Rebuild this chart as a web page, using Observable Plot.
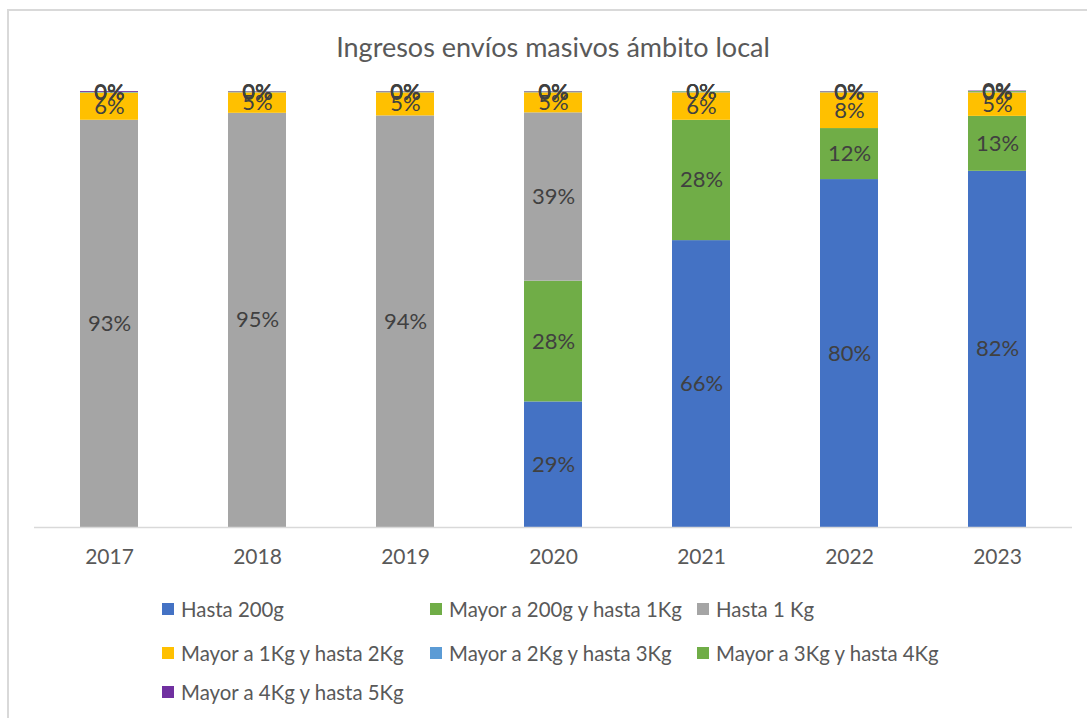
<!DOCTYPE html>
<html>
<head>
<meta charset="utf-8">
<script src="https://cdn.jsdelivr.net/npm/d3@7"></script>
<script src="https://cdn.jsdelivr.net/npm/@observablehq/plot@0.6"></script>
<style>
  body { margin: 0; background: #fff; font-family: Lato, "Open Sans", sans-serif; }
  #frame { position: relative; width: 1087px; height: 718px; overflow: hidden; background: #fff; }
  #border { position: absolute; left: 7px; top: 9px; width: 1100px; height: 730px; border: 2px solid #d9d9d9; box-sizing: border-box; }
  #title { position: absolute; left: 0; width: 1106px; top: 30px; text-align: center; font-size: 27px; color: #595959; line-height: 34px; }
  #chart { position: absolute; left: 0; top: 0; }
  .leg { position: absolute; font-size: 20.4px; color: #595959; white-space: nowrap; line-height: 24px; }
  .sw { position: absolute; width: 12px; height: 12px; }
</style>
</head>
<body>
<div id="frame">
  <div id="border"></div>
  <div id="title">Ingresos envíos masivos ámbito local</div>
  <div id="chart"></div>
  <div id="legend"></div>
</div>
<script>
const years = ["2017", "2018", "2019", "2020", "2021", "2022", "2023"];
const series = [
  "Hasta 200g",
  "Mayor a 200g y hasta 1Kg",
  "Hasta 1 Kg",
  "Mayor a 1Kg y hasta 2Kg",
  "Mayor a 2Kg y hasta 3Kg",
  "Mayor a 3Kg y hasta 4Kg",
  "Mayor a 4Kg y hasta 5Kg"
];
const colors = ["#4472C4", "#70AD47", "#A5A5A5", "#FFC000", "#5B9BD5", "#70AD47", "#7030A0"];

const hasta200g      = [null,  null,  null,  0.288, 0.658, 0.798, 0.817];
const mayor200gA1Kg  = [null,  null,  null,  0.277, 0.276, 0.117, 0.126];
const hasta1Kg       = [0.934, 0.950, 0.944, 0.386, null,  null,  null];
const mayor1KgA2Kg   = [0.062, 0.047, 0.053, 0.046, 0.063, 0.082, 0.054];
const mayor2KgA3Kg   = [0.001, 0.001, 0.001, 0.001, 0.002, 0.001, 0.001];
const mayor3KgA4Kg   = [0.001, 0.001, 0.001, 0.001, 0.001, 0.001, 0.002];
const mayor4KgA5Kg   = [0.002, 0.001, 0.001, 0.001, 0.000, 0.001, 0.001];

const seriesValues = [hasta200g, mayor200gA1Kg, hasta1Kg, mayor1KgA2Kg, mayor2KgA3Kg, mayor3KgA4Kg, mayor4KgA5Kg];

const data = years.flatMap((year, i) =>
  series.map((s, j) => ({year, series: s, value: seriesValues[j][i]}))
).filter(d => d.value != null);

const fmt = d => Math.round(d.value * 100) + "%";

const chart = Plot.plot({
  width: 1087,
  height: 580,
  marginLeft: 34,
  marginRight: 15,
  marginTop: 91,
  marginBottom: 53,
  style: {fontFamily: "Lato, 'Open Sans', sans-serif", fontSize: "21px", color: "#595959", background: "transparent"},
  x: {domain: years, paddingInner: 0.609, paddingOuter: 0.3045, label: null, tickSize: 0, tickPadding: 22},
  y: {domain: [0, 1], axis: null},
  color: {domain: series, range: colors},
  marks: [
    Plot.barY(data, {x: "year", y: "value", fill: "series", order: series}),
    Plot.ruleY([0], {stroke: "#d9d9d9", strokeWidth: 1.5}),
    Plot.text(data, Plot.stackY({
      x: "year", y: "value", z: "series", order: series,
      text: fmt, fill: "#404040", fontSize: 22
    }))
  ]
});
document.getElementById("chart").appendChild(chart);

const legendCols = [162, 430, 697];
const legendRows = [609, 653, 692];
const legend = document.getElementById("legend");
series.forEach((s, i) => {
  const cx = legendCols[i % 3], cy = legendRows[Math.floor(i / 3)];
  const sw = document.createElement("div");
  sw.className = "sw";
  sw.style.left = cx + "px";
  sw.style.top = (cy - 6) + "px";
  sw.style.background = colors[i];
  legend.appendChild(sw);
  const t = document.createElement("div");
  t.className = "leg";
  t.style.left = (cx + 19) + "px";
  t.style.top = (cy - 12) + "px";
  t.textContent = s;
  legend.appendChild(t);
});
</script>
</body>
</html>
